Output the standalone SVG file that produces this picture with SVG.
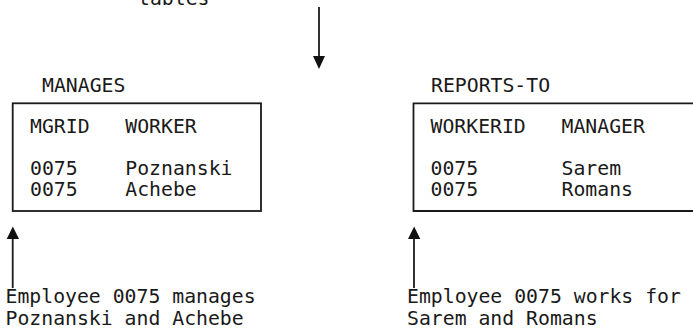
<svg xmlns="http://www.w3.org/2000/svg" width="693" height="332" viewBox="0 0 693 332">
  <defs>
    <style>
      .t { font-family: "DejaVu Sans Mono", "Liberation Mono", monospace; font-size: 19.8px; fill: #1a1a1a; white-space: pre; }
      .box { fill: none; stroke: #1a1a1a; stroke-width: 1.8; }
      .line { fill: none; stroke: #1a1a1a; stroke-width: 1.8; }
      .head { fill: #111; }
    </style>
  </defs>
  <rect width="693" height="332" fill="#fff"/>

  <!-- caption cut at the top -->
  <text class="t" x="138" y="5">tables</text>

  <g id="manages">
    <text class="t" x="42" y="92">MANAGES</text>
    <rect class="box" x="12.7" y="103.3" width="248.3" height="107.7"/>
    <text class="t" x="30" y="133" xml:space="preserve">MGRID   WORKER</text>
    <text class="t" x="30" y="175" xml:space="preserve">0075    Poznanski</text>
    <text class="t" x="30" y="196" xml:space="preserve">0075    Achebe</text>
  </g>

  <g id="reports-to">
    <text class="t" x="431" y="92">REPORTS-TO</text>
    <path class="box" d="M700 103.3 H413.5 V211 H700"/>
    <text class="t" x="430.5" y="133" xml:space="preserve">WORKERID   MANAGER</text>
    <text class="t" x="430.5" y="175" xml:space="preserve">0075       Sarem</text>
    <text class="t" x="430.5" y="196" xml:space="preserve">0075       Romans</text>
  </g>

  <g id="note-manages">
    <text class="t" x="5.5" y="303">Employee 0075 manages</text>
    <text class="t" x="5.5" y="325">Poznanski and Achebe</text>
  </g>

  <g id="note-reports">
    <text class="t" x="407" y="303">Employee 0075 works for</text>
    <text class="t" x="407" y="325">Sarem and Romans</text>
  </g>

  <g id="connectors">
    <line class="line" x1="319" y1="7" x2="319" y2="57"/>
    <polygon class="head" points="313,56 325,56 319,69"/>

    <line class="line" x1="12.7" y1="238" x2="12.7" y2="288"/>
    <polygon class="head" points="6.7,239 19,239 12.85,226.5"/>

    <line class="line" x1="414" y1="238" x2="414" y2="288"/>
    <polygon class="head" points="408,239 420.3,239 414.15,226.5"/>
  </g>
</svg>
